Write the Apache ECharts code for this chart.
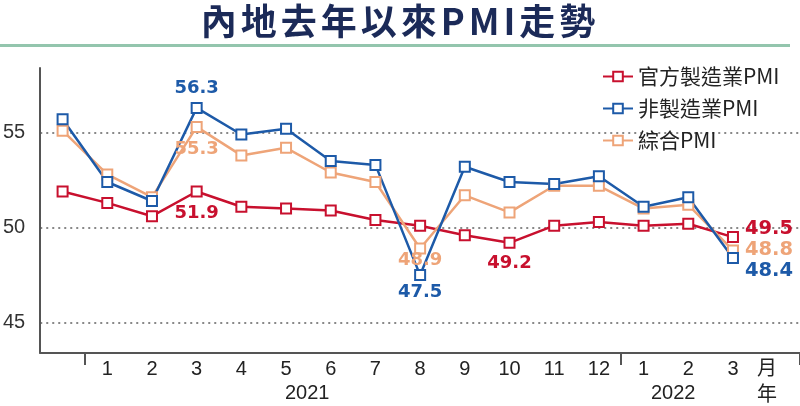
<!DOCTYPE html>
<html lang="zh-Hant">
<head>
<meta charset="UTF-8">
<title>內地去年以來PMI走勢</title>
<script src="https://cdn.jsdelivr.net/npm/echarts@6/dist/echarts.min.js"></script>
<style>
    html, body { margin: 0; padding: 0; background: #fff; }
    #wrap { position: relative; width: 800px; height: 406px; }
    #title {
        position: absolute; left: 0; top: -3px; width: 800px; text-align: center;
        font: bold 36px 'Noto Sans CJK TC'; color: #1b2a58; letter-spacing: 4px; line-height: 44px;
    }
    #rule { position: absolute; left: 0; top: 44px; width: 790px; height: 3px; background: #93c5ad; }
    #main { position: absolute; left: 0; top: 0; width: 800px; height: 406px; }
</style>
</head>
<body>
<div id="wrap">
    <div id="main"></div>
    <div id="title">內地去年以來PMI走勢</div>
    <div id="rule"></div>
</div>
<script type="text/javascript">
    // 月份 (第一個點是2020年12月, 最後一格留給「月」)
    var months = ['', '1', '2', '3', '4', '5', '6', '7', '8', '9', '10', '11', '12', '1', '2', '3', ''];
    var official  = [51.9, 51.3, 50.6, 51.9, 51.1, 51.0, 50.9, 50.4, 50.1, 49.6, 49.2, 50.1, 50.3, 50.1, 50.2, 49.5];
    var nonMfg    = [55.7, 52.4, 51.4, 56.3, 54.9, 55.2, 53.5, 53.3, 47.5, 53.2, 52.4, 52.3, 52.7, 51.1, 51.6, 48.4];
    var composite = [55.1, 52.8, 51.6, 55.3, 53.8, 54.2, 52.9, 52.4, 48.9, 51.7, 50.8, 52.2, 52.2, 51.0, 51.2, 48.8];
    var yearLabels = ['2021', '2022'];

    var RED = '#c8102e', BLUE = '#1d5aa8', ORANGE = '#eea478';

    // 哪些點要標數字
    function withLabels(values, color, spec) {
        return values.map(function (v, i) {
            if (!spec[i]) return v;
            return {
                value: v,
                label: Object.assign({
                    show: true, color: color, fontSize: 18, fontWeight: 'bold',
                    fontFamily: 'DejaVu Sans'
                }, spec[i])
            };
        });
    }

    function lineSeries(name, values, color, spec) {
        return {
            name: name, type: 'line', data: withLabels(values, color, spec),
            symbol: 'emptyRect', symbolSize: 10, showAllSymbol: true,
            lineStyle: {color: color, width: 2.5},
            itemStyle: {color: color, borderColor: color, borderWidth: 2}
        };
    }

    var myChart = echarts.init(document.getElementById('main'));
    var option = {
        animation: false,
        grid: {left: 39, right: 0, top: 68, bottom: 53},
        legend: {
            data: ['官方製造業PMI', '非製造業PMI', '綜合PMI'],
            orient: 'vertical', left: 597, top: 61,
            itemWidth: 30, itemHeight: 12, itemGap: 11,
            textStyle: {fontSize: 21, color: '#222', fontFamily: 'Noto Sans CJK TC'}
        },
        xAxis: {
            type: 'category', data: months, boundaryGap: true,
            axisLine: {lineStyle: {color: '#555', width: 2}},
            axisTick: {
                show: true, length: 12, lineStyle: {color: '#555', width: 2},
                interval: function (i) { return i === 1 || i === 13; }
            },
            axisLabel: {interval: 0, fontSize: 20, color: '#222', margin: 6, fontFamily: 'Liberation Sans'}
        },
        yAxis: {
            type: 'value', min: 43.4, max: 58.4, splitNumber: 3,
            axisLine: {show: true, lineStyle: {color: '#555', width: 2}},
            axisTick: {show: false},
            axisLabel: {
                fontSize: 20, color: '#333', margin: 15, fontFamily: 'Liberation Sans',
                formatter: function (v) { return v % 5 === 0 ? v : ''; }
            },
            splitLine: {
                show: true, showMinLine: false, showMaxLine: false,
                lineStyle: {color: '#888', width: 2, type: [2, 4]}
            }
        },
        graphic: [
            {type: 'text', left: 307 - 22, top: 383, style: {text: yearLabels[0], fontSize: 20, fill: '#222', fontFamily: 'Liberation Sans'}},
            {type: 'text', left: 673 - 22, top: 383, style: {text: yearLabels[1], fontSize: 20, fill: '#222', fontFamily: 'Liberation Sans'}},
            {type: 'text', left: 757, top: 357, style: {text: '月', fontSize: 20, fill: '#222', fontFamily: 'Noto Sans CJK TC'}},
            {type: 'text', left: 757, top: 383, style: {text: '年', fontSize: 20, fill: '#222', fontFamily: 'Noto Sans CJK TC'}}
        ],
        series: [
            lineSeries('官方製造業PMI', official, RED, {
                3: {position: 'bottom', distance: 7},
                10: {position: 'bottom', distance: 6},
                15: {position: 'right', distance: 6, offset: [0, -8], fontSize: 19.5}
            }),
            lineSeries('綜合PMI', composite, ORANGE, {
                3: {position: 'bottom', distance: 7},
                8: {position: 'bottom', distance: -3},
                15: {position: 'right', distance: 6, offset: [0, 0], fontSize: 19.5}
            }),
            lineSeries('非製造業PMI', nonMfg, BLUE, {
                3: {position: 'top', distance: 5},
                8: {position: 'bottom', distance: 2},
                15: {position: 'right', distance: 6, offset: [0, 13], fontSize: 19.5}
            })
        ]
    };
    myChart.setOption(option);
</script>
</body>
</html>
